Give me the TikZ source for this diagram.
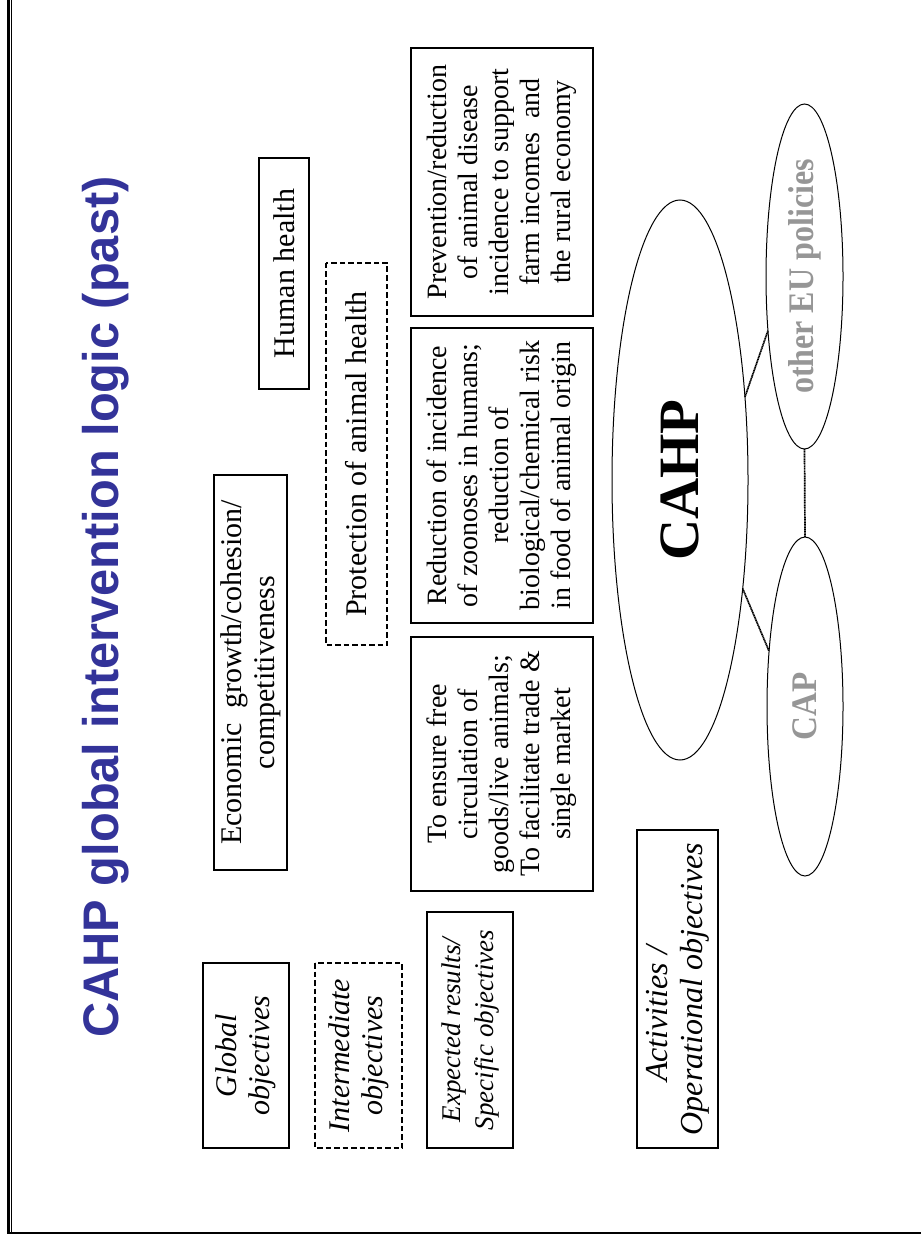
\documentclass[tikz,border=0pt]{standalone}
\usepackage{fontspec}
\setmainfont{Liberation Serif}
\newfontfamily\arialfont{Liberation Sans}
\usetikzlibrary{shapes.geometric}
\definecolor{titleblue}{RGB}{51,51,153}
\definecolor{policygray}{RGB}{150,150,150}
\begin{document}
\begin{tikzpicture}[x=1pt,y=-1pt,
  boxbase/.style={draw, line width=1.3pt, rotate=90, inner sep=0pt, align=center},
  labelbox/.style={boxbase, font=\fontsize{30}{33}\selectfont\itshape},
  goalbox/.style={boxbase, font=\fontsize{30}{33}\selectfont},
  specbox/.style={boxbase, font=\fontsize{28}{31}\selectfont},
  dashbox/.style={dash pattern=on 5.5pt off 3pt, line width=1.5pt},
  policy/.style={ellipse, draw, line width=1pt, inner sep=0pt, outer sep=0pt},
  link/.style={line width=1.7pt, dash pattern=on 1.2pt off 0.5pt}
]
\useasboundingbox (0,0) rectangle (921,1238);

% page frame
\draw[line width=2.5pt] (8.5,0) -- (8.5,1234.2);
\draw[line width=1.3pt] (11.4,0) -- (11.4,1232);
\draw[line width=2.4pt] (7.25,1233) -- (921,1233);

% title
\node[rotate=90, anchor=base, inner sep=0pt, text=titleblue,
      font=\arialfont\bfseries\fontsize{50}{58}\selectfont] (title) at (118,607)
  {\scalebox{0.975}[1]{CAHP global intervention logic (past)}};

% left column labels
\node[labelbox, minimum width=185pt, minimum height=86pt] (glob) at (246,1055.5)
  {Global\\objectives};
\node[labelbox, dashbox, minimum width=185pt, minimum height=87pt] (inter) at (358.5,1055.5)
  {Intermediate\\objectives};
\node[labelbox, font=\fontsize{27}{33}\selectfont\itshape, minimum width=236pt, minimum height=86pt] (expec) at (470,1030)
  {Expected results/\\Specific objectives};
\node[labelbox, font=\fontsize{32}{35}\selectfont\itshape, minimum width=318pt, minimum height=81pt] (activ) at (677.5,989)
  {Activities /\hspace*{50pt}\\Operational objectives};

% global objectives
\node[goalbox, minimum width=395pt, minimum height=73pt] (econ) at (250.5,672.5)
  {Economic~ growth/cohesion/\\competitiveness};
\node[goalbox, minimum width=231pt, minimum height=50pt] (human) at (284,273.5)
  {Human health};

% intermediate objective
\node[goalbox, dashbox, minimum width=382pt, minimum height=61pt] (animal) at (356.5,454)
  {Protection of animal health};

% specific objectives
\node[specbox, minimum width=268pt, minimum height=182pt] (prev) at (502,182)
  {Prevention/reduction\\of animal disease\\incidence to support\\farm incomes~ and\\the rural economy};
\node[specbox, minimum width=295pt, minimum height=182pt] (redu) at (502,475.5)
  {Reduction of incidence\\of zoonoses in humans;\\reduction of\\biological/chemical risk\\in food of animal origin};
\node[specbox, minimum width=254pt, minimum height=182pt] (free) at (502,764)
  {To ensure free\\circulation of\\goods/live animals;\\To facilitate trade \&\\single market};

% policies
\node[policy, minimum width=136pt, minimum height=560pt] (cahp) at (680,480)
  {\rotatebox{90}{\fontsize{57}{60}\selectfont\bfseries CAHP}};
\node[policy, minimum width=77pt, minimum height=345pt] (oeu) at (804.5,276.5)
  {\rotatebox{90}{\scalebox{0.89}[1]{\fontsize{36}{38}\selectfont\bfseries\color{policygray}other EU policies}}};
\node[policy, minimum width=76pt, minimum height=339pt] (cap) at (805,706.5)
  {\rotatebox{90}{\scalebox{0.92}[1]{\fontsize{36}{38}\selectfont\bfseries\color{policygray}CAP}}};

% connectors
\draw[link] (cahp.52.6) -- (oeu.236.4);
\draw[link] (cahp.-60.8) -- (cap.123.4);
\draw[link] (oeu.south) -- (cap.north);
\end{tikzpicture}
\end{document}
